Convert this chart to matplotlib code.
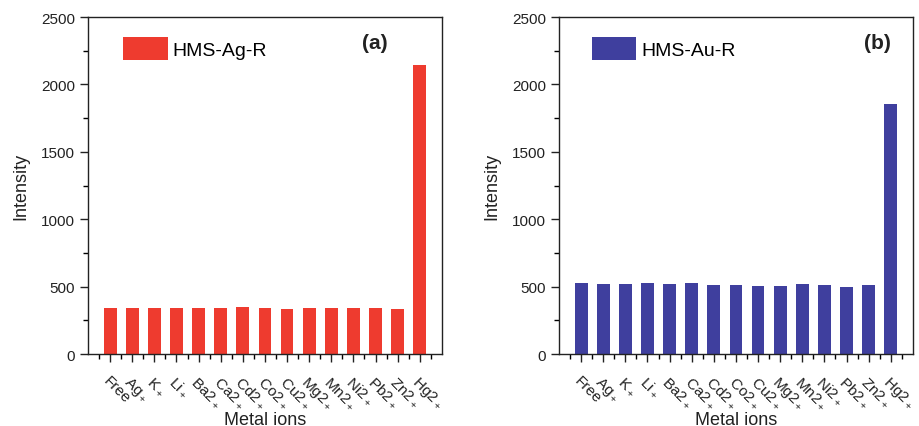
import matplotlib.pyplot as plt
import numpy as np
from matplotlib.ticker import MultipleLocator

plt.rcParams['font.family'] = ['Liberation Sans', 'DejaVu Sans']
plt.rcParams['mathtext.default'] = 'regular'

ions = ["Free", "Ag$_+$", "K$_+$", "Li$_+$", "Ba2$_+$", "Ca2$_+$", "Cd2$_+$", "Co2$_+$",
        "Cu2$_+$", "Mg2$_+$", "Mn2$_+$", "Ni2$_+$", "Pb2$_+$", "Zn2$_+$", "Hg2$_+$"]
ag_intensity = [339, 344, 344, 339, 339, 344, 347, 339, 334, 342, 339, 342, 344, 334, 2144]
au_intensity = [529, 516, 516, 526, 521, 529, 511, 509, 504, 506, 519, 511, 499, 511, 1855]

fig = plt.figure(figsize=(9.19, 4.27), dpi=100)

panels = [
    (0.0958, ag_intensity, '#EE3B2F', 'HMS-Ag-R', '(a)', 0.10, 0.81),
    (0.6083, au_intensity, '#3F3F9E', 'HMS-Au-R', '(b)', 0.093, 0.90),
]

x = np.arange(1, len(ions) + 1)
for left, values, color, name, tag, leg_x, tag_x in panels:
    ax = fig.add_axes([left, 0.1686, 0.385, 0.789])
    ax.bar(x, values, width=0.58, color=color, label=name)
    ax.set_xlim(0, 16)
    ax.set_ylim(0, 2500)
    ax.yaxis.set_major_locator(MultipleLocator(500))
    ax.yaxis.set_minor_locator(MultipleLocator(250))
    ax.set_xticks(x)
    ax.set_xticks(np.arange(0.5, 16, 1), minor=True)
    ax.set_xticklabels(ions, rotation=-45, ha='left', va='top',
                       rotation_mode='anchor', fontsize=11)
    ax.tick_params(axis='both', which='major', direction='out', length=6,
                   width=1, labelsize=11, colors='#222222')
    ax.tick_params(axis='both', which='minor', direction='out', length=3.5, width=1)
    ax.tick_params(axis='x', which='major', pad=8)
    for sp in ax.spines.values():
        sp.set_linewidth(1)
        sp.set_color('#222222')
    ax.set_ylabel('Intensity', fontsize=13, color='#222222', labelpad=8)
    ax.set_xlabel('Metal ions', fontsize=13, color='#222222', labelpad=-2)
    ax.legend(loc='upper left', bbox_to_anchor=(leg_x, 0.94), frameon=False,
              fontsize=14, handlelength=2.27, handleheight=1.4,
              borderpad=0, borderaxespad=0, handletextpad=0.25)
    ax.text(tag_x, 0.925, tag, transform=ax.transAxes, ha='center', va='center',
            fontsize=15, fontweight='bold', color='#222222')

fig.savefig('out.png', dpi=100)
